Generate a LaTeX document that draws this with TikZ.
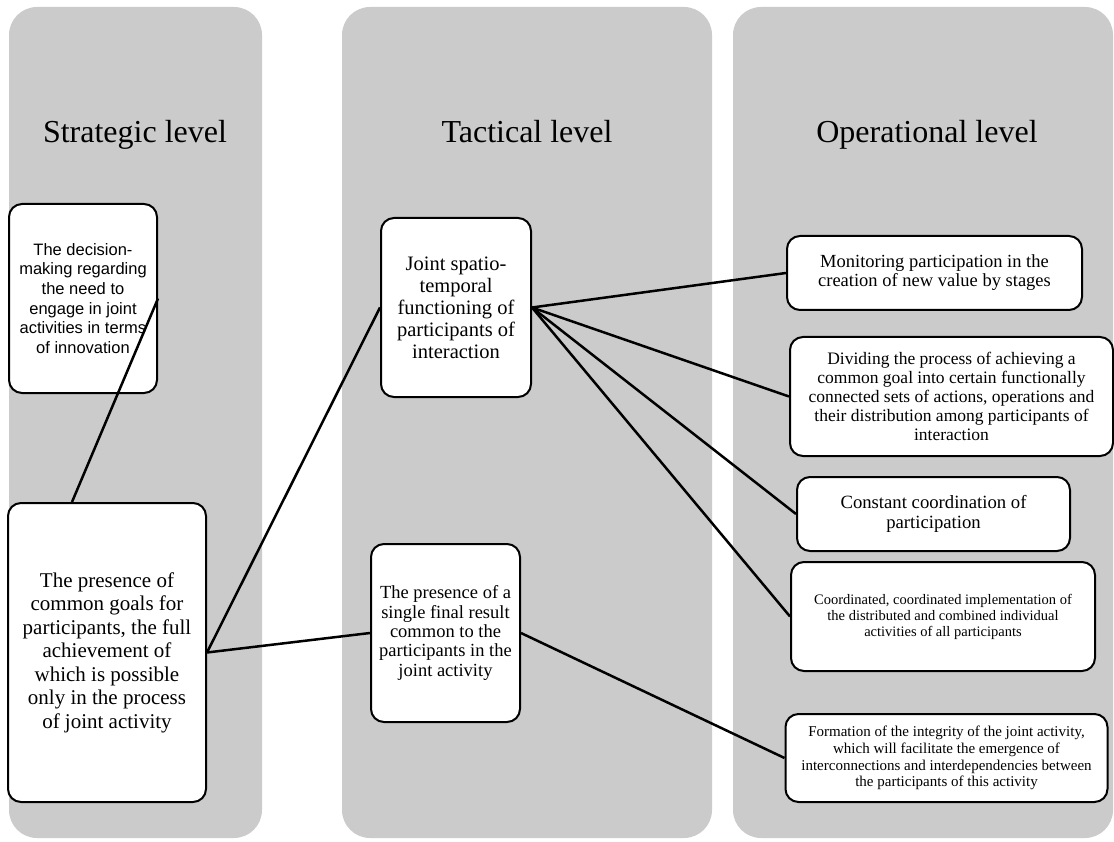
\documentclass[tikz,border=0pt]{standalone}
\usepackage{fontspec}
\setmainfont{Liberation Serif}
\newfontfamily\boxsans{Liberation Sans}
\definecolor{levelgray}{HTML}{CBCBCB}

\begin{document}
\begin{tikzpicture}[x=1pt,y=-1pt,
    level/.style={fill=levelgray,rounded corners=28pt},
    title/.style={anchor=base,font=\fontsize{32}{38}\selectfont},
    card/.style={draw,line width=2pt,fill=white,rounded corners=13pt,align=center,inner sep=0pt},
    link/.style={line width=2.5pt}]
    \useasboundingbox (0,0) rectangle (1114,842);
    \fill[level] (9,7) rectangle (262,838);
    \fill[level] (342,7) rectangle (712,838);
    \fill[level] (733,7) rectangle (1113,838);
    \node[title] (strategic) at (135,143) {Strategic level};
    \node[title] (tactical) at (527,143) {Tactical level};
    \node[title] (operational) at (927,143) {Operational level};

    \node[card,minimum width=148pt,minimum height=189pt,font=\boxsans\fontsize{16.5}{19.7}\selectfont] (decision) at (83,298.5)
        {The decision-\\making regarding\\the need to\\engage in joint\\activities in terms\\of innovation};
    \node[card,minimum width=198pt,minimum height=299pt,font=\fontsize{21}{23.5}\selectfont] (goals) at (107,652.5)
        {The presence of\\common goals for\\participants, the full\\achievement of\\which is possible\\only in the process\\of joint activity};
    \node[card,minimum width=150pt,minimum height=179pt,font=\fontsize{20.5}{22}\selectfont] (joint) at (456,307.5)
        {Joint spatio-\\temporal\\functioning of\\participants of\\interaction};
    \node[card,minimum width=149pt,minimum height=178pt,font=\fontsize{18.5}{19.3}\selectfont] (result) at (445.5,633)
        {The presence of a\\single final result\\common to the\\participants in the\\joint activity};
    \node[card,minimum width=295pt,minimum height=74pt,font=\fontsize{18.5}{19}\selectfont] (monitor) at (934.5,273)
        {Monitoring participation in the\\creation of new value by stages};
    \node[card,minimum width=323pt,minimum height=119pt,font=\fontsize{17.5}{19.2}\selectfont] (divide) at (951.5,396.5)
        {Dividing the process of achieving a\\common goal into certain functionally\\connected sets of actions, operations and\\their distribution among participants of\\interaction};
    \node[card,minimum width=273pt,minimum height=74pt,font=\fontsize{18.7}{20}\selectfont] (constant) at (933.5,514)
        {Constant coordination of\\participation};
    \node[card,minimum width=304pt,minimum height=109pt,font=\fontsize{14.5}{16}\selectfont] (implement) at (943,616.5)
        {Coordinated, coordinated implementation of\\the distributed and combined individual\\activities of all participants};
    \node[card,minimum width=322pt,minimum height=88pt,font=\fontsize{15}{16.7}\selectfont] (integrity) at (946.5,758)
        {Formation of the integrity of the joint activity,\\which will facilitate the emergence of\\interconnections and interdependencies between\\the participants of this activity};

    \draw[link] ([xshift=-35pt]goals.north) -- (decision.east);
    \draw[link] (goals.east) -- (joint.west);
    \draw[link] (goals.east) -- (result.west);
    \foreach \t in {monitor,divide,constant,implement}
        \draw[link] (joint.east) -- (\t.west);
    \draw[link] (result.east) -- (integrity.west);
\end{tikzpicture}
\end{document}
